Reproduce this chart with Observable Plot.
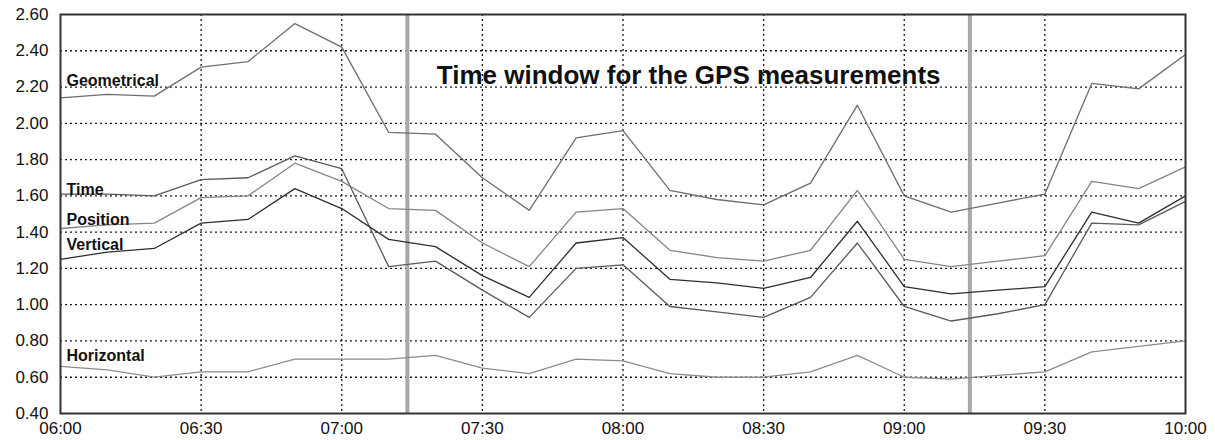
<!DOCTYPE html>
<html>
<head>
<meta charset="utf-8">
<script src="https://cdn.jsdelivr.net/npm/d3@7"></script>
<script src="https://cdn.jsdelivr.net/npm/@observablehq/plot@0.6"></script>
<style>
  html, body { margin: 0; padding: 0; background: #fff; }
  #chart { width: 1215px; height: 440px; }
</style>
</head>
<body>
<div id="chart"></div>
<script>
const times = ["06:00","06:10","06:20","06:30","06:40","06:50","07:00","07:10","07:20","07:30","07:40","07:50","08:00","08:10","08:20","08:30","08:40","08:50","09:00","09:10","09:20","09:30","09:40","09:50","10:00"];
const geometrical = [2.14,2.16,2.15,2.31,2.34,2.55,2.42,1.95,1.94,1.70,1.52,1.92,1.96,1.63,1.58,1.55,1.67,2.10,1.60,1.51,1.56,1.61,2.22,2.19,2.38];
const timeDop     = [1.61,1.61,1.60,1.69,1.70,1.82,1.75,1.21,1.24,1.08,0.93,1.20,1.22,0.99,0.96,0.93,1.04,1.34,0.99,0.91,0.95,1.00,1.45,1.44,1.57];
const position    = [1.42,1.44,1.45,1.59,1.60,1.78,1.68,1.53,1.52,1.34,1.21,1.51,1.53,1.30,1.26,1.24,1.30,1.63,1.25,1.21,1.24,1.27,1.68,1.64,1.76];
const vertical    = [1.25,1.29,1.31,1.45,1.47,1.64,1.53,1.36,1.32,1.16,1.04,1.34,1.37,1.14,1.12,1.09,1.15,1.46,1.10,1.06,1.08,1.10,1.51,1.45,1.60];
const horizontal  = [0.66,0.64,0.60,0.63,0.63,0.70,0.70,0.70,0.72,0.65,0.62,0.70,0.69,0.62,0.60,0.60,0.63,0.72,0.60,0.59,0.61,0.63,0.74,0.77,0.80];

const seriesNames  = ["Geometrical","Time","Position","Vertical","Horizontal"];
const seriesColors = ["#6e6e6e","#5a5a5a","#858585","#2e2e2e","#8c8c8c"];
const labelValues  = [2.235, 1.635, 1.47, 1.33, 0.715];

const xTicks = ["06:00","06:30","07:00","07:30","08:00","08:30","09:00","09:30","10:00"];
const yTicks = [0.40,0.60,0.80,1.00,1.20,1.40,1.60,1.80,2.00,2.20,2.40,2.60];
const windowMarks = ["07:14","09:14"];
const titleText = "Time window for the GPS measurements";
const titleAt = {time: "08:14", value: 2.262};

const parseT = s => { const [h, m] = s.split(":").map(Number); return new Date(Date.UTC(2000, 0, 1, h, m)); };

const allSeries = [geometrical, timeDop, position, vertical, horizontal];
const rows = [];
allSeries.forEach((vals, k) => vals.forEach((v, i) => rows.push({series: seriesNames[k], t: parseT(times[i]), v})));
const labels = seriesNames.map((n, k) => ({name: n, t: parseT(times[0]), v: labelValues[k]}));

const chart = Plot.plot({
  width: 1215,
  height: 440,
  marginLeft: 60,
  marginRight: 30,
  marginTop: 14,
  marginBottom: 27,
  style: {fontFamily: "'Liberation Sans', Arial, sans-serif", fontSize: "17px", color: "#111", background: "#fff"},
  x: {type: "utc", domain: [parseT("06:00"), parseT("10:00")], ticks: xTicks.map(parseT), tickFormat: d3.utcFormat("%H:%M"), label: null},
  y: {domain: [0.40, 2.60], ticks: yTicks, tickFormat: d3.format(".2f"), label: null},
  color: {domain: seriesNames, range: seriesColors},
  marks: [
    Plot.gridY(yTicks.slice(1, -1), {stroke: "#000", strokeOpacity: 0.9, strokeDasharray: "2,3", strokeWidth: 1.3}),
    Plot.gridX(xTicks.slice(1, -1).map(parseT), {stroke: "#000", strokeOpacity: 0.9, strokeDasharray: "2,3", strokeWidth: 1.3}),
    Plot.ruleX(windowMarks.map(parseT), {stroke: "#a8a8a8", strokeWidth: 4}),
    Plot.line(rows, {x: "t", y: "v", z: "series", stroke: "series", strokeWidth: 1.3}),
    Plot.text(labels, {x: "t", y: "v", text: "name", dx: 6, textAnchor: "start", fontWeight: "bold", fontSize: 16, fill: "#111"}),
    Plot.text([titleAt], {x: d => parseT(d.time), y: "value", text: () => titleText, fontWeight: "bold", fontSize: 26, fill: "#111"}),
    Plot.axisX({ticks: xTicks.map(parseT), tickFormat: d3.utcFormat("%H:%M"), tickSize: 0, tickPadding: 8, fontSize: 17, label: null}),
    Plot.axisY({ticks: yTicks, tickFormat: d3.format(".2f"), tickSize: 0, tickPadding: 12, fontSize: 17, label: null}),
    Plot.frame({stroke: "#333", strokeWidth: 2})
  ]
});
document.getElementById("chart").appendChild(chart);
</script>
</body>
</html>
